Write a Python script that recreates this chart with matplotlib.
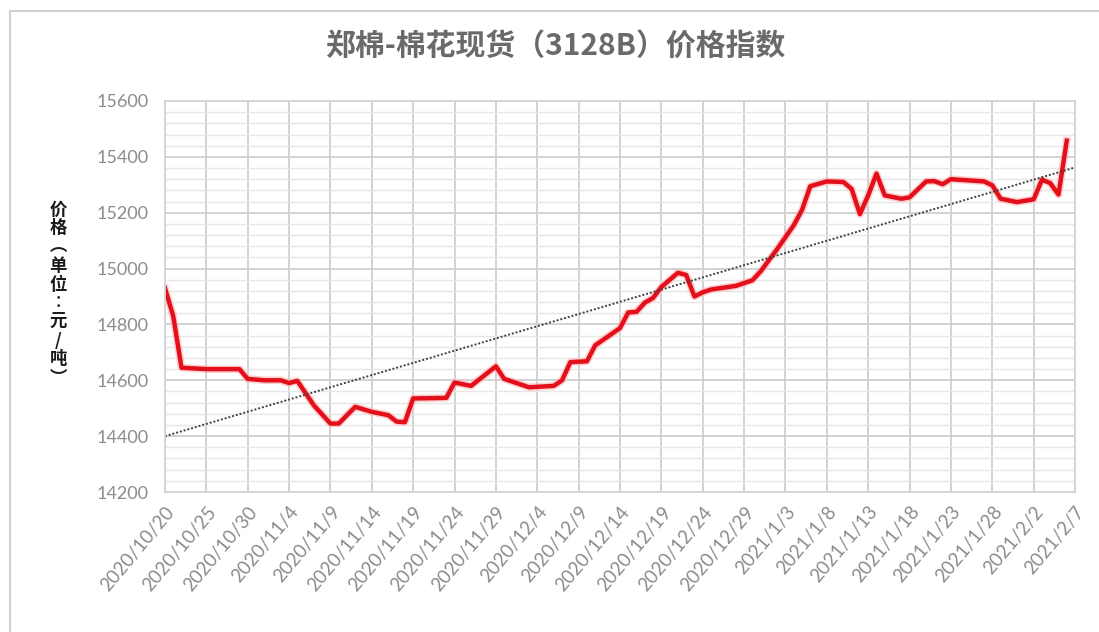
import matplotlib
matplotlib.use("Agg")
import matplotlib.pyplot as plt
import pandas as pd
from matplotlib.lines import Line2D

plt.rcParams['font.family'] = ['Noto Sans CJK SC', 'DejaVu Sans']

# Data
dates = [
    "2020-10-20", "2020-10-21", "2020-10-22", "2020-10-25", "2020-10-29", "2020-10-30",
    "2020-11-01", "2020-11-03", "2020-11-04", "2020-11-05", "2020-11-07", "2020-11-09",
    "2020-11-10", "2020-11-12", "2020-11-14", "2020-11-16", "2020-11-17", "2020-11-18",
    "2020-11-19", "2020-11-23", "2020-11-24", "2020-11-26", "2020-11-29", "2020-11-30",
    "2020-12-03", "2020-12-06", "2020-12-07", "2020-12-08", "2020-12-10", "2020-12-11",
    "2020-12-14", "2020-12-15", "2020-12-16", "2020-12-17", "2020-12-18", "2020-12-19",
    "2020-12-21", "2020-12-22", "2020-12-23", "2020-12-24", "2020-12-25", "2020-12-28",
    "2020-12-30", "2020-12-31", "2021-01-02", "2021-01-04", "2021-01-05", "2021-01-06",
    "2021-01-08", "2021-01-10", "2021-01-11", "2021-01-12", "2021-01-13", "2021-01-14",
    "2021-01-15", "2021-01-17", "2021-01-18", "2021-01-20", "2021-01-21", "2021-01-22",
    "2021-01-23", "2021-01-27", "2021-01-28", "2021-01-29", "2021-01-31", "2021-02-02",
    "2021-02-03", "2021-02-04", "2021-02-05", "2021-02-06",
]
prices = [
    14930, 14830, 14645, 14640, 14640, 14605,
    14600, 14600, 14590, 14598, 14510, 14445,
    14445, 14505, 14487, 14475, 14452, 14450,
    14535, 14537, 14592, 14580, 14650, 14605,
    14575, 14580, 14600, 14665, 14668, 14725,
    14787, 14843, 14845, 14878, 14895, 14934,
    14985, 14977, 14900, 14915, 14925, 14938,
    14958, 14990, 15070, 15155, 15210, 15295,
    15312, 15310, 15285, 15195, 15262, 15340,
    15262, 15250, 15255, 15312, 15313, 15302,
    15320, 15312, 15298, 15250, 15238, 15248,
    15318, 15306, 15265, 15458,
]
trend_dates = ["2020-10-20", "2021-02-07"]
trend_values = [14400, 15362]

x_start, x_end = "2020-10-20", "2021-02-07"
y_ticks = list(range(14200, 15601, 200))

fig = plt.figure(figsize=(10.99, 6.32), dpi=100)
ax = fig.add_axes([0.1501, 0.2215, 0.8281, 0.6187])

d = pd.to_datetime(dates)
td = pd.to_datetime(trend_dates)

# axes and grid
ax.set_ylim(14200, 15600)
ax.set_xlim(pd.Timestamp(x_start), pd.Timestamp(x_end))
ax.set_yticks(y_ticks)
ax.set_yticks(range(14200, 15601, 40), minor=True)
xt = pd.date_range(x_start, x_end, freq="5D")
ax.set_xticks(xt)
ax.set_xticklabels([f"{t.year}/{t.month}/{t.day}" for t in xt],
                   rotation=50, ha="right", rotation_mode="anchor",
                   fontsize=13.5, color="#8c8c8c", family="Lato")
for lab in ax.get_yticklabels():
    lab.set_family("Lato")
ax.tick_params(axis="y", labelsize=13, labelcolor="#8c8c8c", length=0, pad=12)
ax.tick_params(axis="x", length=0, pad=8)
ax.tick_params(which="minor", length=0)
ax.grid(True, which="major", color="#cfcfcf", linewidth=1.3)
ax.grid(True, which="minor", axis="y", color="#e6e6e6", linewidth=1.0)
for s in ax.spines.values():
    s.set_color("#d4d4d4")
    s.set_linewidth(1.3)
ax.set_axisbelow(True)

# lines
ax.plot(d, prices, color="#ffb3b3", linewidth=5.5, solid_joinstyle="round", alpha=0.6)
ax.plot(d, prices, color="#e3101b", linewidth=3.2, solid_joinstyle="round")
ax.plot(td, trend_values, color="#404040", linewidth=1.4, linestyle=(0, (1, 1)))

fig.text(0.505, 0.928, "郑棉-棉花现货（3128B）价格指数", ha="center", va="center",
         fontsize=21.5, color="#6a6a6a", fontweight="bold")

ylab = "价格︵单位︰元/吨︶"
fig.text(0.053, 0.535, "\n".join(ylab), ha="center", va="center",
         fontsize=12.5, fontweight="bold", color="#1a1a1a", linespacing=1.05)

# outer chart border (left and top visible)
fig.add_artist(Line2D([0.009, 0.009], [0.0, 0.983], color="#d0d0d0", linewidth=1.5))
fig.add_artist(Line2D([0.009, 1.0], [0.983, 0.983], color="#d0d0d0", linewidth=1.5))

fig.savefig("out.png", dpi=100, facecolor="white")
